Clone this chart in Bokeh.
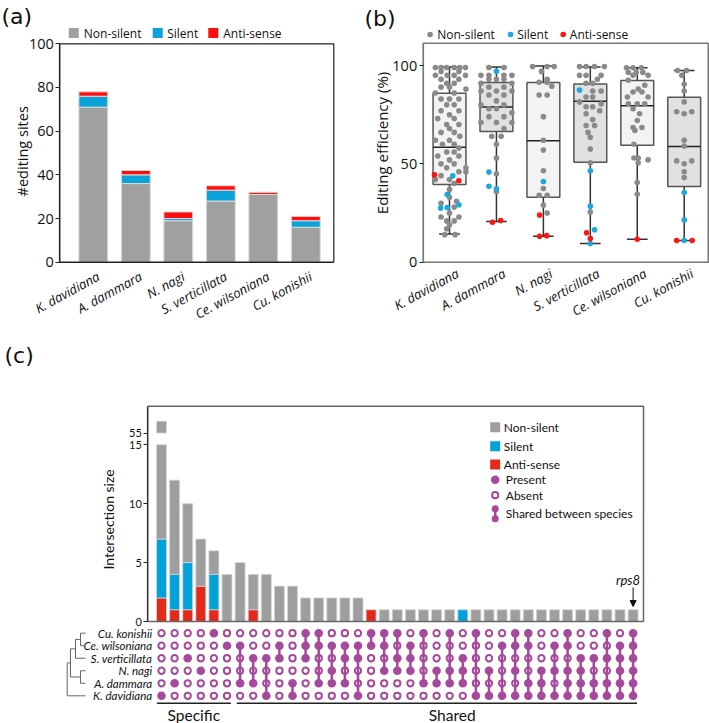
import math
from bokeh.plotting import figure
from bokeh.models import Range1d, FixedTicker, ColumnDataSource, Arrow, NormalHead
from bokeh.layouts import column, row
from bokeh.embed import file_html
from bokeh.resources import INLINE
from bokeh.core.properties import value

# ---------------- data: panel (a) ----------------
species = ["K. davidiana", "A. dammara", "N. nagi", "S. verticillata", "Ce. wilsoniana", "Cu. konishii"]
sites_nonsilent = [71, 36, 19, 28, 31, 16]
sites_silent = [5, 4, 1, 5, 0, 3]
sites_antisense = [2, 2, 3, 2, 1, 2]
sites_ticks = [0, 20, 40, 60, 80, 100]
class_labels = ["Non-silent", "Silent", "Anti-sense"]

# ---------------- data: panel (b) ----------------
eff_ticks = [0, 50, 100]
box_low = [14.4, 20.7, 13.2, 9.5, 11.7, 11.0]
box_q1 = [39.5, 66.4, 33.0, 50.8, 59.5, 38.5]
box_median = [58.5, 78.9, 61.8, 81.8, 79.6, 58.8]
box_q3 = [85.9, 91.4, 91.3, 90.6, 92.4, 83.8]
box_high = [99.3, 99.2, 99.8, 99.2, 98.8, 97.5]

# (editing efficiency, horizontal jitter)
kd_nonsilent = [(99, -0.3), (99, -0.18), (99, -0.06), (99, 0.1), (99, 0.22), (99, 0.34),
                (97, -0.18), (97, 0.2), (95, -0.3), (95, -0.05), (95, 0.1), (95, 0.34),
                (93, -0.18), (93, 0.2), (91, -0.06), (91, 0.1), (89, -0.18), (89, 0.0),
                (88, 0.35), (86, -0.3), (86, 0.1), (83, -0.18), (83, 0.0), (83, 0.2),
                (80, -0.06), (80, 0.1), (77, -0.18), (77, 0.2), (75, 0.0), (73, -0.25),
                (73, 0.1), (70, -0.06), (70, 0.2), (68, 0.0), (66, 0.1), (66, -0.18),
                (64, 0.22), (62, -0.3), (62, 0.0), (60, 0.1), (60, -0.15), (58, 0.2),
                (56, -0.06), (56, 0.1), (54, -0.25), (54, 0.2), (52, 0.0), (50, -0.18),
                (50, 0.1), (48, 0.35), (48, -0.06), (46, 0.35), (46, 0.2), (44, -0.18),
                (42, 0.0), (42, -0.3), (40, 0.1), (37, 0.0), (33, 0.0), (31, 0.15),
                (30, -0.18), (28, 0.1), (25, 0.0), (23, -0.18), (23, 0.2), (21, -0.06),
                (21, 0.1), (19, 0.0), (17, -0.06), (14, -0.1), (14, 0.12)]
kd_silent = [(43.9, 0.07), (34.4, -0.05), (27.5, -0.19), (27.8, -0.05), (29.2, 0.2)]
kd_antisense = [(44.4, -0.32), (41.4, 0.2)]

ad_nonsilent = [(99, -0.16), (99, 0.16), (95, -0.33), (95, -0.16), (95, 0.16), (95, 0.33),
                (93, 0.0), (93, -0.16), (93, 0.16), (91, -0.33), (91, 0.33), (89, -0.16),
                (89, 0.16), (87, -0.33), (87, 0.0), (87, 0.33), (85, -0.16), (85, 0.16),
                (82, 0.0), (80, -0.33), (80, 0.16), (78, -0.16), (78, 0.0), (76, 0.33),
                (74, -0.16), (74, 0.16), (71, -0.33), (71, 0.0), (71, 0.33), (68, 0.16),
                (64, -0.1), (64, 0.1), (60, 0.0), (53, 0.0), (45, 0.0), (36, 0.0)]
ad_silent = [(97.1, 0.0), (45.8, -0.16), (38.6, -0.16), (37.3, 0.0)]
ad_antisense = [(20.3, -0.085), (21.2, 0.09)]

nn_nonsilent = [(99.5, -0.23), (99.5, 0.08), (99.5, 0.23), (97, -0.04), (93, 0.08),
                (91.5, -0.09), (91.5, 0.08), (89.5, 0.18), (85, -0.09), (85, 0.08),
                (74, 0.0), (62, 0.0), (57, 0.0), (46.5, 0.0), (37.5, 0.0), (34, -0.09),
                (34, 0.08), (29, 0.0), (25, 0.08)]
nn_silent = [(41.0, 0.0)]
nn_antisense = [(24.0, -0.08), (13.2, -0.08), (13.5, 0.07)]

sv_nonsilent = [(99.5, -0.23), (99.5, -0.09), (99.5, 0.09), (99.5, 0.3), (95, -0.23),
                (95, -0.09), (95, 0.23), (93, 0.15), (91, -0.09), (91, 0.05), (87, 0.05),
                (87, 0.23), (84, -0.09), (84, 0.05), (81.5, -0.23), (80.5, 0.23),
                (79, -0.09), (79, 0.05), (77, 0.2), (75.5, -0.09), (72.5, 0.05),
                (69.5, -0.09), (69.5, 0.09), (66, -0.05), (63.5, 0.0), (57.5, 0.0),
                (50.5, 0.0), (25.5, 0.0)]
sv_silent = [(87.5, -0.23), (46.5, 0.0), (28.5, 0.0), (16.5, 0.09), (9.5, 0.0)]
sv_antisense = [(15.0, -0.08), (12.0, 0.0)]

cw_nonsilent = [(98.8, -0.23), (98.8, -0.09), (98.8, 0.09), (96.5, -0.19), (96.5, -0.02),
                (96.5, 0.12), (95, -0.09), (95, 0.23), (92.5, -0.19), (90, 0.16),
                (88, 0.02), (86.5, -0.09), (86.5, 0.1), (84, -0.21), (84, 0.23),
                (80.5, -0.19), (80.5, 0.0), (80.5, 0.16), (78, -0.09), (75.5, 0.05),
                (72, 0.0), (68.5, -0.09), (68.5, 0.1), (67, -0.05), (60, -0.07),
                (53, -0.07), (53, 0.02), (52, 0.23), (50.5, 0.02), (40.5, 0.0), (34.5, 0.0)]
cw_silent = []
cw_antisense = [(11.7, 0.0)]

ck_nonsilent = [(97.5, -0.14), (97.5, 0.05), (95, -0.05), (90.5, 0.0), (87, 0.0),
                (81.5, 0.0), (76.5, -0.16), (76.5, 0.16), (75.5, 0.0), (62, 0.0),
                (59, 0.0), (51.5, -0.16), (51.5, 0.16), (50, 0.0), (46, 0.0), (43, 0.0)]
ck_silent = [(35.4, 0.0), (21.5, 0.0), (11.0, 0.0)]
ck_antisense = [(11.0, -0.16), (11.0, 0.17)]

# ---------------- data: panel (c) ----------------
combo_nonsilent = [49, 8, 5, 4, 2, 4, 5, 3, 4, 3, 3, 2, 2, 2, 2, 2, 0, 1, 1, 1, 1, 1, 1, 0,
                   1, 1, 1, 1, 1, 1, 1, 1, 1, 1, 1, 1, 1]
combo_silent = [5, 3, 4, 0, 3, 0, 0, 0, 0, 0, 0, 0, 0, 0, 0, 0, 0, 0, 0, 0, 0, 0, 0, 1,
                0, 0, 0, 0, 0, 0, 0, 0, 0, 0, 0, 0, 0]
combo_antisense = [2, 1, 1, 3, 1, 0, 0, 1, 0, 0, 0, 0, 0, 0, 0, 0, 1, 0, 0, 0, 0, 0, 0, 0,
                   0, 0, 0, 0, 0, 0, 0, 0, 0, 0, 0, 0, 0]
combo_ticks = [0, 5, 10, 15, 55]
axis_break = (15, 55)
n_specific = 6
matrix_species = ["Cu. konishii", "Ce. wilsoniana", "S. verticillata", "N. nagi", "A. dammara", "K. davidiana"]
present_cu = [4, 11, 12, 16, 17, 18, 20, 22, 24, 27, 28, 31, 34, 36]
present_ce = [5, 6, 9, 11, 12, 13, 14, 15, 16, 17, 19, 26, 27, 28, 30, 31, 35, 36]
present_sv = [2, 7, 8, 9, 11, 14, 15, 18, 19, 23, 32, 33, 34, 35, 36]
present_nn = [3, 13, 17, 18, 19, 21, 22, 23, 25, 27, 29, 30, 31, 32, 35, 36]
present_ad = [1, 6, 7, 10, 12, 13, 14, 20, 21, 22, 23, 28, 29, 31, 32, 33, 34, 35, 36]
present_kd = [0, 8, 10, 15, 24, 25, 26, 27, 28, 29, 30, 31, 32, 33, 34, 35, 36]
species_tree = ((((0, 1), 2), (3, 4)), 5)
legend_c_labels = ["Non-silent", "Silent", "Anti-sense", "Present", "Absent", "Shared between species"]
highlight_label = "rps8"
highlight_col = 36

# ---------------- styling / layout ----------------
FONT = "Open Sans"
FONT_C = "Lato"
FONT_TAG = "DejaVu Sans"
GRAY_A, BLUE_A, RED_A = "#a0a0a0", "#0aa2d8", "#ff0d0d"
GRAY_C, BLUE_C, RED_C = "#9e9e9e", "#00a3d9", "#e2291c"
DOT_GRAY, DOT_BLUE, DOT_RED = "#8a8a8a", "#19a9e1", "#ff1414"
PURPLE = "#a6489b"
INK = "#111111"
W_A, W_B, H_TOP, H_C = 345, 364, 330, 393


def base_fig(w, h, xr, yr):
    p = figure(width=w, height=h, x_range=Range1d(*xr), y_range=Range1d(*yr),
               output_backend="svg", toolbar_location=None, min_border_left=0,
               min_border_right=0, min_border_top=0, min_border_bottom=0)
    p.grid.visible = False
    p.outline_line_color = None
    p.background_fill_color = "white"
    p.border_fill_color = "white"
    return p


def style_y(ax, ticks, size, loc, bounds, color, font=FONT):
    ax.fixed_location = loc
    ax.bounds = bounds
    ax.ticker = FixedTicker(ticks=ticks)
    ax.major_tick_out = 4
    ax.major_tick_in = 0
    ax.minor_tick_line_color = None
    ax.major_label_standoff = 2
    ax.axis_line_color = color
    ax.axis_line_width = 1.2
    ax.major_tick_line_color = "#222222"
    ax.major_label_text_font = font
    ax.major_label_text_font_size = size
    ax.major_label_text_color = INK


def style_x(ax, bounds, color, shift, standoff):
    pos = [i + shift for i in range(len(species))]
    ax.fixed_location = 0
    ax.bounds = bounds
    ax.ticker = FixedTicker(ticks=pos)
    ax.major_label_overrides = {p_: s for p_, s in zip(pos, species)}
    ax.major_label_orientation = 0.5
    ax.major_tick_line_color = None
    ax.minor_tick_line_color = None
    ax.major_tick_out = 0
    ax.major_label_standoff = standoff
    ax.axis_line_color = color
    ax.axis_line_width = 1.2
    ax.major_label_text_font = FONT
    ax.major_label_text_font_style = "italic"
    ax.major_label_text_font_size = "13px"
    ax.major_label_text_color = INK


def add_text(p, xs, ys, texts, font, size, align="left", style="normal", angle=0.0,
             color=INK):
    p.text(x=xs, y=ys, text=texts, text_font=value(font), text_font_size=size,
           text_font_style=style, text_align=align, text_baseline="middle",
           angle=angle, text_color=color)


# ================= panel (a) =================
A_BOX = (59.3, 333.3, 43.3, 261.7)        # left, right, top, bottom (px)
XA = lambda ref: (ref - 92.8) / 42.5       # band centre / spacing
YA = lambda ref: (A_BOX[3] - ref) / 2.184  # px per site
pa = base_fig(W_A, H_TOP, (XA(0), XA(W_A)), (YA(H_TOP), YA(0)))
src_a = ColumnDataSource(dict(x=list(range(len(species))), ns=sites_nonsilent,
                              si=sites_silent, an=sites_antisense))
pa.vbar_stack(["ns", "si", "an"], x="x", width=0.68, source=src_a,
              fill_color=[GRAY_A, BLUE_A, RED_A], line_color="#dcdcdc", line_width=1)
pa.quad(left=[XA(A_BOX[0])], right=[XA(A_BOX[1])], bottom=[0], top=[YA(A_BOX[2])],
        fill_color=None, line_color="#222222", line_width=1.2)
style_y(pa.yaxis[0], sites_ticks, "14.5px", XA(A_BOX[0]), (0, YA(A_BOX[2])), "#222222")
style_x(pa.xaxis[0], (XA(A_BOX[0]), XA(A_BOX[1])), "#222222", 0.12, 13)
pa.scatter(x=[XA(73.3), XA(157.2), XA(212.8)], y=[YA(32.6)] * 3, marker="square", size=10,
           fill_color=[GRAY_A, BLUE_A, RED_A], line_color=None)
add_text(pa, [XA(83.3), XA(166.7), XA(222.7)], [YA(32.6)] * 3, class_labels, FONT, "12px")
add_text(pa, [XA(1)], [YA(16)], ["(a)"], FONT_TAG, "22px")
add_text(pa, [XA(21.7)], [YA(150.8)], ["#editing sites"], FONT, "14.5px", align="center",
         angle=math.pi / 2)

# ================= panel (b) =================
B_BOX = (422.7, 707.7, 42.7, 261.7)
XB = lambda ref: (ref - 449.0) / 46.94
YB = lambda ref: (B_BOX[3] - ref) / 1.967
pb = base_fig(W_B, H_TOP, (XB(W_A), XB(W_A + W_B)), (YB(H_TOP), YB(0)))
idx = list(range(len(species)))
box_fill = ["#f3f3f3", "#e1e1e1", "#f3f3f3", "#e1e1e1", "#f3f3f3", "#e1e1e1"]
pb.segment(x0=idx, y0=box_q3, x1=idx, y1=box_high, line_color="#333333", line_width=1.5)
pb.segment(x0=idx, y0=box_low, x1=idx, y1=box_q1, line_color="#333333", line_width=1.5)
pb.segment(x0=[i - 0.22 for i in idx], y0=box_high, x1=[i + 0.22 for i in idx], y1=box_high,
           line_color="#333333", line_width=1.5)
pb.segment(x0=[i - 0.22 for i in idx], y0=box_low, x1=[i + 0.22 for i in idx], y1=box_low,
           line_color="#333333", line_width=1.5)
pb.vbar(x=idx, width=0.70, bottom=box_q1, top=box_q3, fill_color=box_fill,
        line_color="#555555", line_width=1.5)
pb.segment(x0=[i - 0.35 for i in idx], y0=box_median, x1=[i + 0.35 for i in idx],
           y1=box_median, line_color="#222222", line_width=1.5)
groups = [(kd_nonsilent, kd_silent, kd_antisense), (ad_nonsilent, ad_silent, ad_antisense),
          (nn_nonsilent, nn_silent, nn_antisense), (sv_nonsilent, sv_silent, sv_antisense),
          (cw_nonsilent, cw_silent, cw_antisense), (ck_nonsilent, ck_silent, ck_antisense)]
for k, colr in enumerate([DOT_GRAY, DOT_BLUE, DOT_RED]):
    xs, ys = [], []
    for i, g in enumerate(groups):
        for v, dx in g[k]:
            xs.append(i + dx)
            ys.append(v)
    pb.scatter(x=xs, y=ys, size=5.6, fill_color=colr, line_color=None)
pb.quad(left=[XB(B_BOX[0])], right=[XB(B_BOX[1])], bottom=[0], top=[YB(B_BOX[2])],
        fill_color=None, line_color="#777777", line_width=1.5)
style_y(pb.yaxis[0], eff_ticks, "14.5px", XB(B_BOX[0]), (0, YB(B_BOX[2])), "#777777")
style_x(pb.xaxis[0], (XB(B_BOX[0]), XB(B_BOX[1])), "#777777", 0.17, 10)
pb.scatter(x=[XB(429.6), XB(510), XB(562.7)], y=[YB(34)] * 3, size=5.6,
           fill_color=[DOT_GRAY, DOT_BLUE, DOT_RED], line_color=None)
add_text(pb, [XB(436.7), XB(516.7), XB(569.3)], [YB(34)] * 3, class_labels, FONT, "12px")
add_text(pb, [XB(364)], [YB(18)], ["(b)"], FONT_TAG, "22px")
add_text(pb, [XB(381.7)], [YB(142.5)], ["Editing efficiency (%)"], FONT, "15px",
         align="center", angle=math.pi / 2)

# ================= panel (c) =================
C_BOX = (147.3, 643.0, 405.7, 621.0)
XC = lambda ref: (ref - 161.0) / 13.1      # column centre / spacing
YC = lambda ref: (C_BOX[3] - ref) / 11.78  # px per site
R_Y0, R_DY = 632.7, 12.52                  # matrix row centre / spacing
row_y = lambda r: YC(R_Y0 + R_DY * r)
pc = base_fig(W_A + W_B, H_C, (XC(0), XC(W_A + W_B)), (YC(H_TOP + H_C), YC(H_TOP)))

BRK_LO, BRK_HI = axis_break
BRK_SHIFT = BRK_HI - BRK_LO - 1


def disp(v):
    return v if v <= BRK_LO else v - BRK_SHIFT


n_cols = len(combo_nonsilent)
seg = dict(x=[], b=[], t=[], c=[])
for i in range(n_cols):
    base = 0
    for val, colr in ((combo_antisense[i], RED_C), (combo_silent[i], BLUE_C),
                      (combo_nonsilent[i], GRAY_C)):
        if val <= 0:
            continue
        lo, hi = base, base + val
        base = hi
        if hi <= BRK_LO or lo >= BRK_HI:
            pieces = [(lo, hi)]
        else:
            pieces = []
            if lo < BRK_LO:
                pieces.append((lo, BRK_LO))
            if hi > BRK_HI:
                pieces.append((BRK_HI, hi))
        for a, b in pieces:
            seg["x"].append(i)
            seg["b"].append(disp(a))
            seg["t"].append(disp(b))
            seg["c"].append(colr)
pc.vbar(x="x", bottom="b", top="t", fill_color="c", width=0.76, line_color="#d4d4d4",
        line_width=0.8, source=ColumnDataSource(seg))
pc.quad(left=[XC(C_BOX[0])], right=[XC(C_BOX[1])], bottom=[0], top=[YC(C_BOX[2])],
        fill_color=None, line_color="#666666", line_width=1.5)
pc.xaxis.visible = False
yc = pc.yaxis[0]
style_y(yc, [disp(t) for t in combo_ticks], "11px", XC(C_BOX[0]), (0, YC(C_BOX[2])),
        "#333333", FONT_C)
yc.major_label_overrides = {disp(t): str(t) for t in combo_ticks}
add_text(pc, [XC(4)], [YC(355)], ["(c)"], FONT_TAG, "22px")
add_text(pc, [XC(108)], [YC(519)], ["Intersection size"], FONT_C, "14px", align="center",
         angle=math.pi / 2)

# legend inside the box
lx = XC(494.7)
pc.scatter(x=[lx] * 3, y=[YC(426.7), YC(445.7), YC(464)], marker="square", size=10,
           fill_color=[GRAY_C, BLUE_C, RED_C], line_color=None)
pc.scatter(x=[lx], y=[YC(479.3)], size=8.5, fill_color=PURPLE, line_color=None)
pc.scatter(x=[lx], y=[YC(494.7)], size=6.2, fill_color=None, line_color=PURPLE, line_width=2)
pc.segment(x0=[lx], y0=[YC(508.3)], x1=[lx], y1=[YC(518.3)], line_color=PURPLE, line_width=2.5)
pc.scatter(x=[lx, lx], y=[YC(508.3), YC(518.3)], size=7, fill_color=PURPLE, line_color=None)
add_text(pc, [XC(503.3)] * 3 + [XC(505.3)] * 3,
         [YC(426.7), YC(445.7), YC(464), YC(479.3), YC(494.7), YC(513.3)],
         legend_c_labels, FONT_C, "12px")
add_text(pc, [XC(627.5)], [YC(579)], [highlight_label], FONT_C, "13px", align="center",
         style="italic")
pc.add_layout(Arrow(end=NormalHead(size=6, fill_color=INK, line_color=INK), line_color=INK,
                    line_width=1, x_start=highlight_col, y_start=YC(587),
                    x_end=highlight_col, y_end=YC(606)))

# membership matrix
rows_present = [set(present_cu), set(present_ce), set(present_sv), set(present_nn),
                set(present_ad), set(present_kd)]
fx, fy, ox, oy = [], [], [], []
lx0, ly0, ly1 = [], [], []
for c in range(n_cols):
    rs = [r for r in range(len(rows_present)) if c in rows_present[r]]
    if len(rs) >= 2:
        lx0.append(c)
        ly0.append(row_y(min(rs)))
        ly1.append(row_y(max(rs)))
    for r in range(len(rows_present)):
        if c in rows_present[r]:
            fx.append(c); fy.append(row_y(r))
        else:
            ox.append(c); oy.append(row_y(r))
pc.segment(x0=lx0, y0=ly0, x1=lx0, y1=ly1, line_color=PURPLE, line_width=2.5)
pc.scatter(x=ox, y=oy, size=6.3, fill_color=None, line_color=PURPLE, line_width=2)
pc.scatter(x=fx, y=fy, size=8.6, fill_color=PURPLE, line_color=None)
add_text(pc, [XC(151.7)] * len(matrix_species), [row_y(r) for r in range(len(matrix_species))],
         matrix_species, FONT_C, "11.5px", align="right", style="italic")

# dendrogram
node_x = {(0, 1): 80, (3, 4): 80, ((0, 1), 2): 75, (((0, 1), 2), (3, 4)): 70,
          species_tree: 66.7}
LEAF_X = 85
dx0, dy0, dx1, dy1 = [], [], [], []


def draw_tree(node):
    if isinstance(node, int):
        return XC(LEAF_X), float(node)
    xa_, ya_ = draw_tree(node[0])
    xb_, yb_ = draw_tree(node[1])
    x = XC(node_x[node])
    for (xx, yy) in ((xa_, ya_), (xb_, yb_)):
        dx0.append(x); dy0.append(row_y(yy)); dx1.append(xx); dy1.append(row_y(yy))
    dx0.append(x); dy0.append(row_y(ya_)); dx1.append(x); dy1.append(row_y(yb_))
    return x, (ya_ + yb_) / 2


draw_tree(species_tree)
pc.segment(x0=dx0, y0=dy0, x1=dx1, y1=dy1, line_color="#666666", line_width=1)

# specific / shared brackets
ybr = YC(702.7)
pc.segment(x0=[-0.35, n_specific - 0.25], y0=[ybr, ybr], x1=[n_specific - 0.7, n_cols - 0.7],
           y1=[ybr, ybr], line_color="#222222", line_width=1.5)
add_text(pc, [XC(193.3), XC(451.7)], [YC(714.5)] * 2, ["Specific", "Shared"], FONT_C, "15.5px",
         align="center")

layout = column(row(pa, pb), pc)
open("out.html", "w").write(file_html(layout, INLINE))
